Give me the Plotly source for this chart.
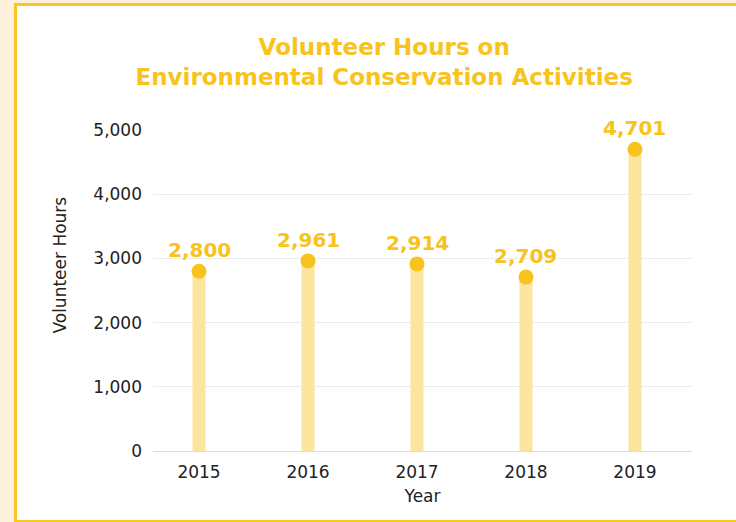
import plotly.graph_objects as go

years = [2015, 2016, 2017, 2018, 2019]
hours = [2800, 2961, 2914, 2709, 4701]
y_ticks = [0, 1000, 2000, 3000, 4000, 5000]

GOLD = "#f8c31c"
STEM = "#fbe59f"
FONT = "DejaVu Sans, sans-serif"

fig = go.Figure()
fig.add_trace(go.Bar(
    x=years, y=hours, width=0.12,
    marker=dict(color=STEM, line=dict(width=0)),
    hoverinfo="skip",
))
fig.add_trace(go.Scatter(
    x=years, y=hours, mode="markers",
    marker=dict(size=15, color=GOLD),
))

for yr, h in zip(years, hours):
    fig.add_annotation(
        x=yr, y=h, text=f"{h:,}", showarrow=False, yshift=21,
        font=dict(family=FONT, size=20, color=GOLD, weight=700),
    )

# y axis title placed by hand (sits above plot centre in the original)
fig.add_annotation(
    xref="paper", yref="paper", x=-0.173, y=0.58, text="Volunteer Hours",
    xanchor="center", yanchor="middle",
    textangle=-90, showarrow=False,
    font=dict(family=FONT, size=17, color="#222222"),
)

# white card with yellow border on the cream page
fig.add_shape(
    type="rect", xref="paper", yref="paper", layer="below",
    x0=-0.2551, x1=1.0983, y0=-0.2196, y1=1.391,
    line=dict(color="#fbc524", width=3), fillcolor="white",
)

fig.update_layout(
    width=736, height=522,
    margin=dict(l=153, r=44, t=130, b=71),
    paper_bgcolor="#fdf1dc",
    plot_bgcolor="white",
    showlegend=False,
    font=dict(family=FONT, color="#222222"),
    title=dict(
        text="Volunteer Hours on<br>Environmental Conservation Activities",
        x=0.522, xanchor="center", y=0.895, yanchor="middle",
        font=dict(family=FONT, size=23, color=GOLD, weight=700),
    ),
    xaxis=dict(
        range=[2014.578, 2019.523], tickmode="array", tickvals=years,
        showgrid=False, zeroline=False, showline=True, linecolor="#dddddd",
        tickfont=dict(size=17), ticklabelstandoff=6,
        title=dict(text="Year", font=dict(size=17), standoff=8),
    ),
    yaxis=dict(
        range=[0, 5000], tickmode="array", tickvals=y_ticks,
        tickformat=",", gridcolor="#ececec", zeroline=False,
        tickfont=dict(size=17), ticklabelstandoff=10,
    ),
)

fig.write_html("out.html", config={"displayModeBar": False},
               post_script="document.body.style.margin='0';")
